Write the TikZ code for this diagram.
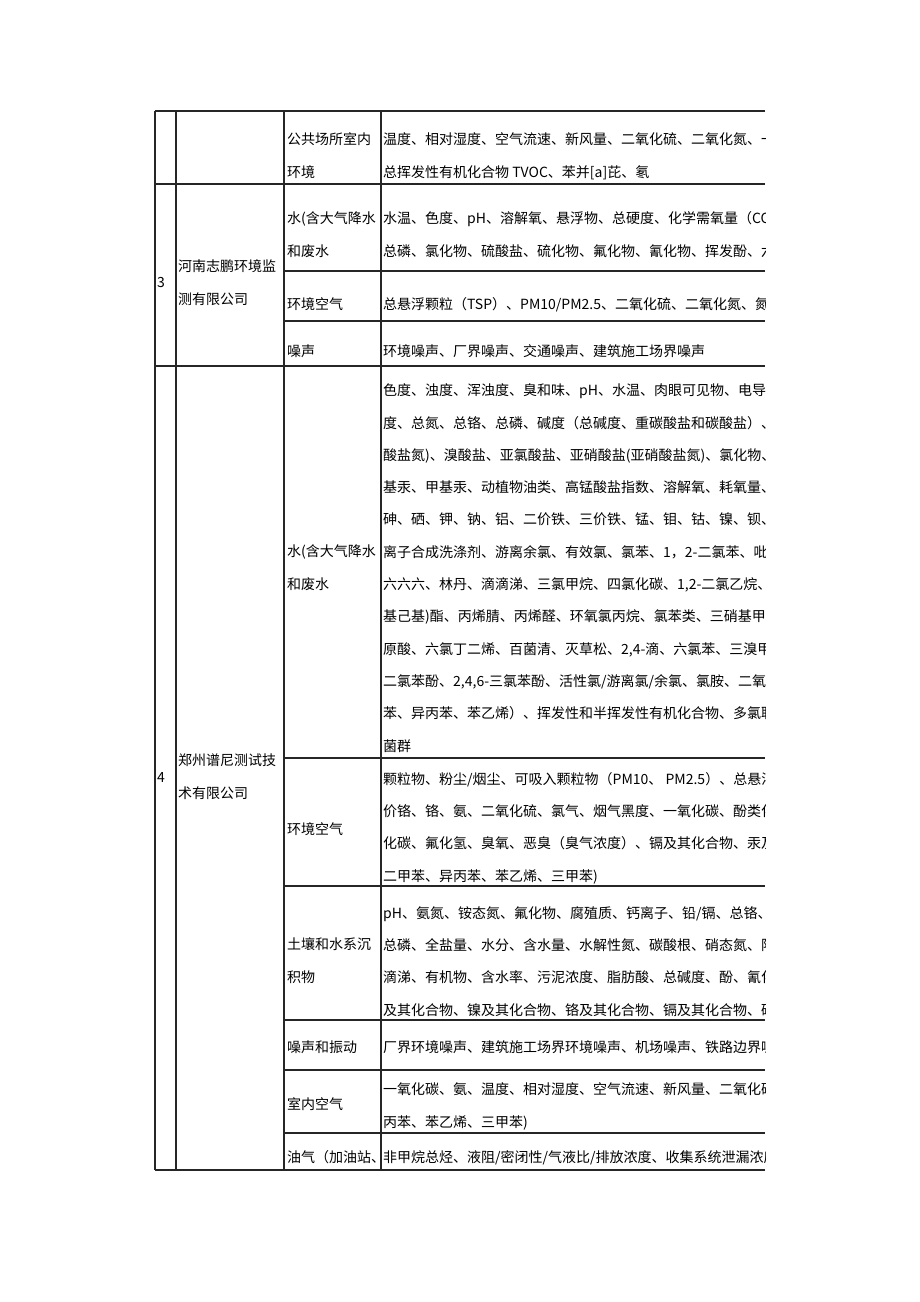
\documentclass[tikz,border=0pt]{standalone}
\usepackage{fontspec}
\setmainfont{Noto Sans CJK SC}

\begin{document}
\begin{tikzpicture}[x=1pt, y=-1pt,
    every node/.style={anchor=base west, inner sep=0pt, align=left,
      font=\fontsize{14}{32.3}\selectfont},
    rule/.style={line width=1.6pt, black!85}]
  \useasboundingbox (0,0) rectangle (920,1302);

  % grid
  \foreach \x in {155, 176, 284, 381}
    \draw[rule] (\x, 111) -- (\x, 1170);
  \foreach \y in {111, 184, 366, 1170}
    \draw[rule] (155, \y) -- (765, \y);
  \foreach \y in {271, 321, 758, 886, 1020, 1070, 1133}
    \draw[rule] (284, \y) -- (765, \y);

  % number and company (y = baseline of the last line)
  \node(n3) at (157, 287) {3};
  \node(n4) at (157, 782) {4};
  \node(c3) at (178, 304) {河南志鹏环境监\\测有限公司};
  \node(c4) at (178, 798) {郑州谱尼测试技\\术有限公司};

  % categories
  \node(k1) at (287, 177) {公共场所室内\\环境};
  \node(k2) at (287, 256) {水(含大气降水\\和废水};
  \node(k3) at (287, 309) {环境空气};
  \node(k4) at (287, 356) {噪声};
  \node(k5) at (287, 589) {水(含大气降水\\和废水};
  \node(k6) at (287, 834) {环境空气};
  \node(k7) at (287, 982) {土壤和水系沉\\积物};
  \node(k8) at (287, 1052) {噪声和振动};
  \node(k9) at (287, 1109) {室内空气};
  \node(k10) at (287, 1162) {油气（加油站、};

  % items, cut at the right edge
  \begin{scope}
    \clip (381, 100) rectangle (765, 1180);
    \node(i1) at (383, 177) {温度、相对湿度、空气流速、新风量、二氧化硫、二氧化氮、一\\总挥发性有机化合物 TVOC、苯并[a]芘、氡};
    \node(i2) at (383, 256) {水温、色度、pH、溶解氧、悬浮物、总硬度、化学需氧量（COD\\总磷、氯化物、硫酸盐、硫化物、氟化物、氰化物、挥发酚、六};
    \node(i3) at (383, 309) {总悬浮颗粒（TSP）、PM10/PM2.5、二氧化硫、二氧化氮、氮氧};
    \node(i4) at (383, 356) {环境噪声、厂界噪声、交通噪声、建筑施工场界噪声};
    \node(i5) at (383, 751) {色度、浊度、浑浊度、臭和味、pH、水温、肉眼可见物、电导率\\
      度、总氮、总铬、总磷、碱度（总碱度、重碳酸盐和碳酸盐）、硝\\
      酸盐氮)、溴酸盐、亚氯酸盐、亚硝酸盐(亚硝酸盐氮)、氯化物、\\
      基汞、甲基汞、动植物油类、高锰酸盐指数、溶解氧、耗氧量、\\
      砷、硒、钾、钠、铝、二价铁、三价铁、锰、钼、钴、镍、钡、\\
      离子合成洗涤剂、游离余氯、有效氯、氯苯、1，2-二氯苯、吡啶\\
      六六六、林丹、滴滴涕、三氯甲烷、四氯化碳、1,2-二氯乙烷、\\
      基己基)酯、丙烯腈、丙烯醛、环氧氯丙烷、氯苯类、三硝基甲苯\\
      原酸、六氯丁二烯、百菌清、灭草松、2,4-滴、六氯苯、三溴甲烷\\
      二氯苯酚、2,4,6-三氯苯酚、活性氯/游离氯/余氯、氯胺、二氧化\\
      苯、异丙苯、苯乙烯）、挥发性和半挥发性有机化合物、多氯联苯\\
      菌群};
    \node(i6) at (383, 881) {颗粒物、粉尘/烟尘、可吸入颗粒物（PM10、 PM2.5）、总悬浮\\
      价铬、铬、氨、二氧化硫、氯气、烟气黑度、一氧化碳、酚类化\\
      化碳、氟化氢、臭氧、恶臭（臭气浓度）、镉及其化合物、汞及\\
      二甲苯、异丙苯、苯乙烯、三甲苯)};
    \node(i7) at (383, 1015) {pH、氨氮、铵态氮、氟化物、腐殖质、钙离子、铅/镉、总铬、\\
      总磷、全盐量、水分、含水量、水解性氮、碳酸根、硝态氮、阳\\
      滴涕、有机物、含水率、污泥浓度、脂肪酸、总碱度、酚、氰化\\
      及其化合物、镍及其化合物、铬及其化合物、镉及其化合物、砷};
    \node(i8) at (383, 1052) {厂界环境噪声、建筑施工场界环境噪声、机场噪声、铁路边界噪};
    \node(i9) at (383, 1127) {一氧化碳、氨、温度、相对湿度、空气流速、新风量、二氧化碳\\丙苯、苯乙烯、三甲苯)};
    \node(i10) at (383, 1162) {非甲烷总烃、液阻/密闭性/气液比/排放浓度、收集系统泄漏浓度};
  \end{scope}
\end{tikzpicture}
\end{document}
